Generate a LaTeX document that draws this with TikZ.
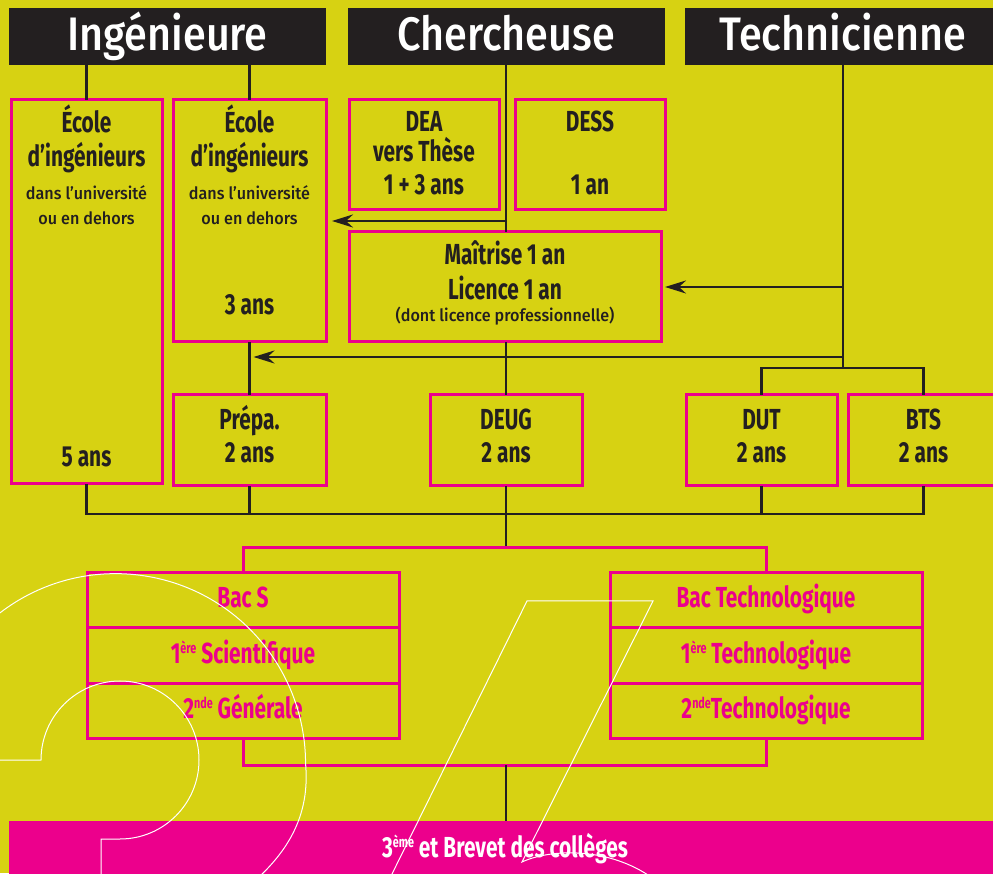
\documentclass[tikz,border=0pt]{standalone}
\usepackage{fontspec}
\setmainfont{Fira Sans}
\newfontfamily\condfont{Fira Sans}[FakeStretch=0.72]
\newfontfamily\headfont{Fira Sans Medium}[FakeStretch=0.88]
\newfontfamily\notefont{Fira Sans Medium}[FakeStretch=0.95]
\usetikzlibrary{arrows.meta,positioning}
\definecolor{bg}{RGB}{215,210,18}
\definecolor{rose}{RGB}{236,0,140}
\definecolor{dark}{RGB}{35,31,32}
\newcommand{\headtxt}{\headfont\fontsize{47}{50}\selectfont}
\newcommand{\bigtxt}{\condfont\bfseries\fontsize{29}{34}\selectfont}
\newcommand{\smalltxt}{\notefont\fontsize{17}{20}\selectfont}
\newcommand{\sps}[1]{\raisebox{10pt}{\fontsize{15}{15}\selectfont #1}}

\begin{document}
\begin{tikzpicture}[x=1pt,y=1pt,
  head/.style={fill=dark,text=white,minimum width=317pt,minimum height=57pt,
    inner sep=0pt,outer sep=0pt,font=\headtxt,text height=29pt,text depth=0pt},
  frame/.style={draw=rose,line width=3pt,fill=bg,inner sep=0pt,outer sep=0pt},
  bac/.style={frame,minimum width=312pt,minimum height=55.5pt,text=rose,
    font=\bigtxt,text height=16pt,text depth=0pt},
  txt/.style={anchor=base,text=dark,font=\bigtxt,inner sep=0pt},
  note/.style={anchor=base,text=dark,font=\smalltxt,inner sep=0pt},
  link/.style={draw=dark,line width=2.6pt},
  arr/.style={link,-{Stealth[length=21pt,width=13pt,inset=7pt]}},
  pinkline/.style={draw=rose,line width=3pt},
  deco/.style={draw=white,line width=1pt}]

\useasboundingbox (0,0) rectangle (993,873);
\clip (0,0) rectangle (993,873);
\fill[bg] (0,0) rectangle (993,873);

%---------------------------------------------------
%headers
\node[head] (ing)  at (167.5,836.5) {Ingénieure};
\node[head] (cher) at (506,836.5)   {Chercheuse};
\node[head] (tech) at (843,836.5)   {Technicienne};

%---------------------------------------------------
%boxes
\node[frame,minimum width=151pt,minimum height=384pt] (ecoleA)   at (86.5,581)   {};
\node[frame,minimum width=153pt,minimum height=242pt] (ecoleB)   at (249.5,652)  {};
\node[frame,minimum width=150pt,minimum height=110pt] (dea)      at (424,718)    {};
\node[frame,minimum width=150pt,minimum height=110pt] (dess)     at (590,718)    {};
\node[frame,minimum width=312pt,minimum height=110pt] (maitrise) at (505,586)    {};
\node[frame,minimum width=153pt,minimum height=91pt]  (prepa)    at (249.5,432.5) {};
\node[frame,minimum width=152pt,minimum height=91pt]  (deug)     at (506,432.5)  {};
\node[frame,minimum width=151pt,minimum height=91pt]  (dut)      at (761.5,432.5) {};
\node[frame,minimum width=151pt,minimum height=91pt]  (bts)      at (923.5,432.5) {};

%box texts
\node[txt]  (ecoleA1) at (86.5,740) {École};
\node[txt]  (ecoleA2) at (86.5,706) {d’ingénieurs};
\node[note] (ecoleA3) at (86.5,673) {dans l’université};
\node[note] (ecoleA4) at (86.5,648) {ou en dehors};
\node[txt]  (ecoleA5) at (86.5,406) {5 ans};

\node[txt]  (ecoleB1) at (249.5,740) {École};
\node[txt]  (ecoleB2) at (249.5,706) {d’ingénieurs};
\node[note] (ecoleB3) at (249.5,673) {dans l’université};
\node[note] (ecoleB4) at (249.5,648) {ou en dehors};
\node[txt]  (ecoleB5) at (249.5,558) {3 ans};

\node[txt] (dea1) at (424,741) {DEA};
\node[txt] (dea2) at (424,711) {vers Thèse};
\node[txt] (dea3) at (424,678) {1 + 3 ans};
\node[txt] (dess1) at (590,741) {DESS};
\node[txt] (dess2) at (590,678) {1 an};

\node[txt]  (maitrise1) at (505,608) {Maîtrise 1 an};
\node[txt]  (maitrise2) at (505,573) {Licence 1 an};
\node[note] (maitrise3) at (505,551) {(dont licence professionnelle)};

\node[txt] (prepa1) at (249.5,443) {Prépa.};
\node[txt] (prepa2) at (249.5,410) {2 ans};
\node[txt] (deug1)  at (506,443)   {DEUG};
\node[txt] (deug2)  at (506,410)   {2 ans};
\node[txt] (dut1)   at (761.5,443) {DUT};
\node[txt] (dut2)   at (761.5,410) {2 ans};
\node[txt] (bts1)   at (923.5,443) {BTS};
\node[txt] (bts2)   at (923.5,410) {2 ans};

%--------------------------------------------------
%bac stacks
\node[bac] (bacS1) at (243,273) {Bac S};
\node[bac,below=0pt of bacS1] (bacS2) {1\sps{ère} Scientifique};
\node[bac,below=0pt of bacS2] (bacS3) {2\sps{nde} Générale};
\node[bac] (bacT1) at (766,273) {Bac Technologique};
\node[bac,below=0pt of bacT1] (bacT2) {1\sps{ère} Technologique};
\node[bac,below=0pt of bacT2] (bacT3) {2\sps{nde}Technologique};

\node[fill=rose,text=white,font=\bigtxt,minimum width=992pt,minimum height=62pt,
  inner sep=0pt,outer sep=0pt,text height=10pt,text depth=0pt] (college) at (505,21)
  {3\sps{ème} et Brevet des collèges};

%--------------------------------------------------
%connectors
\coordinate (techfork) at (843,505);
\coordinate (midrow)   at (249.5,516);
\coordinate (bus)      at (506,359);
\coordinate (bacfork)  at (506,325);
\coordinate (bacjoin)  at (506,108);

\draw[link] (ecoleA.north |- ing.south) -- (ecoleA.north);
\draw[link] (ecoleB.north |- ing.south) -- (ecoleB.north);
\draw[link] (cher.south) -- (cher.south |- maitrise.north);
\draw[arr,shorten >=6pt] (cher.south |- ecoleB.east) -- (ecoleB.east);
\draw[link] (deug.north |- maitrise.south) -- (deug.north);

\draw[link] (tech.south) -- (techfork);
\draw[link] (dut.north) |- (techfork) -| (bts.north);
\draw[arr,shorten >=4pt] (tech.south |- maitrise.east) -- (maitrise.east);
\draw[arr,shorten >=4pt] (techfork |- midrow) -- (midrow);
\draw[link] (ecoleB.south) -- (prepa.north);

\draw[link] (ecoleA.south) |- (bus) -| (bts.south);
\draw[link] (prepa.south) -- (prepa.south |- bus);
\draw[link] (dut.south) -- (dut.south |- bus);
\draw[link] (deug.south) -- (bacfork);

\draw[pinkline] (bacS1.north) |- (bacfork) -| (bacT1.north);
\draw[pinkline] (bacS3.south) |- (bacjoin) -| (bacT3.south);
\draw[link] (bacjoin) -- (bacjoin |- college.north);

%------------------------------------------------
%white outline figures
\draw[deco] (-5,113) -- (41,113) arc[start angle=180,end angle=-90,radius=79]
  -- (101,34) -- (101,-5);
\draw[deco] (-4,257) arc[start angle=129,end angle=0,radius=190]
  .. controls (310,60) and (290,25) .. (258,-5);
\draw[deco] (390,-5) -- (527,272) -- (653,272) -- (522,11)
  .. controls (550,24) and (605,26) .. (648,-2);

\end{tikzpicture}
\end{document}
